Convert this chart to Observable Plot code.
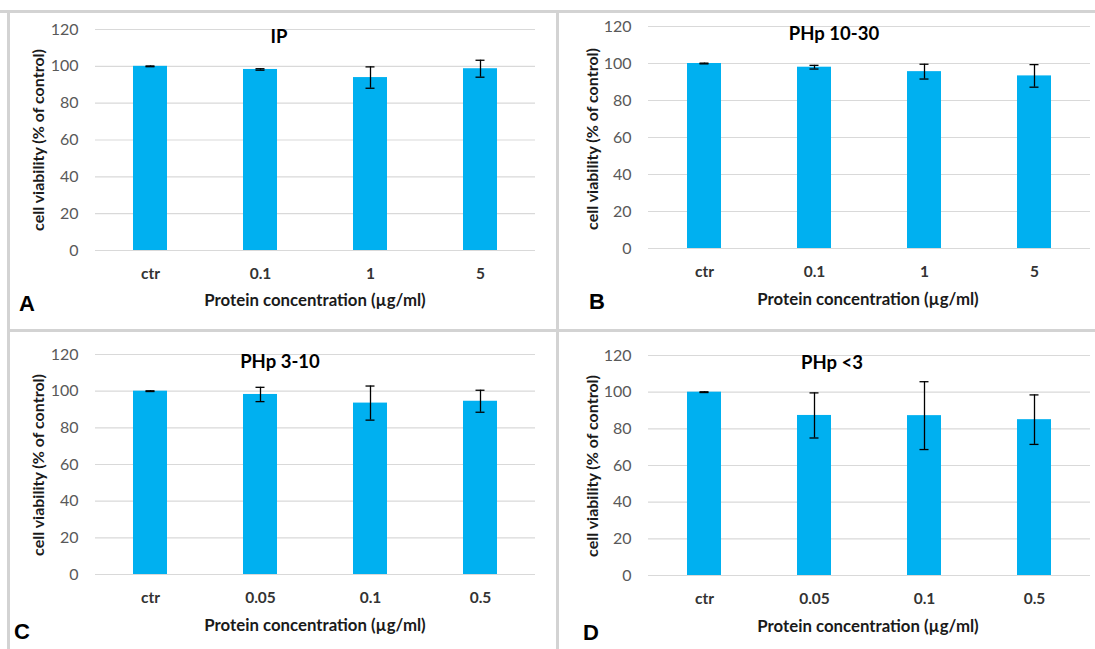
<!DOCTYPE html>
<html>
<head>
<meta charset="utf-8">
<script src="https://cdn.jsdelivr.net/npm/d3@7"></script>
<script src="https://cdn.jsdelivr.net/npm/@observablehq/plot@0.6"></script>
<style>
  body { margin: 0; background: #fff; }
  #fig { position: relative; width: 1095px; height: 649px; overflow: hidden; background: #fff; font-family: Lato, "Open Sans", sans-serif; }
  .rule { position: absolute; background: #d3d3d3; }
  .panel { position: absolute; }
  .panel svg { display: block; background: transparent; }
  #labels { position: absolute; left: 0; top: 0; pointer-events: none; }
</style>
</head>
<body>
<div id="fig"></div>
<script>
// Concentrations tested in each panel
const categoriesAB = ["ctr", "0.1", "1", "5"];
const categoriesCD = ["ctr", "0.05", "0.1", "0.5"];

// Cell viability (% of control), mean and error
const viabilityIP = [100, 98.3, 93.9, 98.7];
const errorIP = [0.2, 0.4, 5.8, 4.6];
const viabilityPHp1030 = [100, 98.0, 95.6, 93.3];
const errorPHp1030 = [0.2, 1.0, 4.0, 6.1];
const viabilityPHp310 = [100, 98.2, 93.5, 94.5];
const errorPHp310 = [0.2, 3.9, 9.3, 6.0];
const viabilityPHp3 = [100, 87.3, 87.2, 85.0];
const errorPHp3 = [0.2, 12.3, 18.5, 13.5];

const yTicks = [0, 20, 40, 60, 80, 100, 120];
const panelTitles = ["IP", "PHp 10-30", "PHp 3-10", "PHp <3"];
const panelLetters = ["A", "B", "C", "D"];
const xTitle = "Protein concentration (\u00b5g/ml)";
const yTitle = "cell viability (% of control)";

const series = [
  {cats: categoriesAB, vals: viabilityIP, errs: errorIP},
  {cats: categoriesAB, vals: viabilityPHp1030, errs: errorPHp1030},
  {cats: categoriesCD, vals: viabilityPHp310, errs: errorPHp310},
  {cats: categoriesCD, vals: viabilityPHp3, errs: errorPHp3}
];

// Page layout: svg box [left, top, width, height], plot frame [x0, x1, yTop, yBottom],
// and text anchors in page pixels
const layout = [
  {box: [10, 13, 546, 316], frame: [95, 535, 29, 250], title: [279, 36], xt: [315, 299], yt: [37, 140], letter: [19, 311]},
  {box: [559, 13, 536, 316], frame: [648, 1090, 26, 248], title: [834, 33], xt: [868, 298], yt: [591, 139], letter: [589, 309]},
  {box: [10, 332, 546, 317], frame: [95, 535, 354, 574], title: [280, 361], xt: [315, 624], yt: [37, 465], letter: [14, 639]},
  {box: [559, 332, 536, 317], frame: [648, 1090, 355, 575], title: [832, 362], xt: [868, 625], yt: [591, 466], letter: [583, 640]}
];

const fig = document.getElementById("fig");

// light grey panel dividers
[[0, 10, 1095, 3], [7, 10, 3, 639], [556, 10, 3, 639], [7, 329, 1088, 3]].forEach(([l, t, w, h]) => {
  const d = document.createElement("div");
  d.className = "rule";
  Object.assign(d.style, {left: l + "px", top: t + "px", width: w + "px", height: h + "px"});
  fig.appendChild(d);
});

series.forEach((s, i) => {
  const L = layout[i];
  const [left, top, W, H] = L.box;
  const [fx0, fx1, fy0, fy1] = L.frame;
  const data = s.cats.map((c, k) => ({c, v: s.vals[k], e: s.errs[k]}));
  const chart = Plot.plot({
    width: W,
    height: H,
    marginLeft: fx0 - left,
    marginRight: left + W - fx1,
    marginTop: fy0 - top,
    marginBottom: top + H - fy1,
    style: {fontFamily: "Lato, 'Open Sans', sans-serif", background: "transparent", overflow: "visible"},
    x: {domain: s.cats, paddingInner: 0.69, paddingOuter: 0.345, axis: null},
    y: {domain: [0, 120], axis: null},
    marks: [
      Plot.gridY(yTicks, {stroke: "#d9d9d9", strokeOpacity: 1, strokeWidth: 1.2}),
      Plot.axisY(yTicks, {tickSize: 0, tickPadding: 17, fontSize: 16, fill: "#595959", label: null}),
      Plot.axisX({tickSize: 0, tickPadding: 17, fontSize: 15.5, fontWeight: "bold", fill: "#333", label: null}),
      Plot.barY(data, {x: "c", y: "v", fill: "#00b0f0"}),
      Plot.ruleX(data, {x: "c", y1: d => d.v - d.e, y2: d => d.v + d.e, stroke: "#000", strokeWidth: 1.3}),
      Plot.tickY(data, {x: "c", y: d => d.v + d.e, insetLeft: 12.5, insetRight: 12.5, stroke: "#000", strokeWidth: 1.3}),
      Plot.tickY(data, {x: "c", y: d => d.v - d.e, insetLeft: 12.5, insetRight: 12.5, stroke: "#000", strokeWidth: 1.3})
    ]
  });
  const holder = document.createElement("div");
  holder.className = "panel";
  Object.assign(holder.style, {left: left + "px", top: top + "px"});
  holder.appendChild(chart);
  fig.appendChild(holder);
});

// titles, axis titles and panel letters
const svg = d3.select(fig).append("svg")
  .attr("id", "labels")
  .attr("width", 1095)
  .attr("height", 649);

layout.forEach((L, i) => {
  svg.append("text")
    .attr("x", L.title[0]).attr("y", L.title[1])
    .attr("text-anchor", "middle").attr("dominant-baseline", "central")
    .attr("font-family", "Lato, 'Open Sans', sans-serif")
    .attr("font-weight", 700).attr("font-size", 18.5).attr("fill", "#000")
    .text(panelTitles[i]);
  svg.append("text")
    .attr("x", L.xt[0]).attr("y", L.xt[1])
    .attr("text-anchor", "middle").attr("dominant-baseline", "central")
    .attr("font-family", "Lato, 'Open Sans', sans-serif")
    .attr("font-weight", 700).attr("font-size", 16.8).attr("fill", "#1a1a1a")
    .text(xTitle);
  svg.append("text")
    .attr("transform", `translate(${L.yt[0]},${L.yt[1]}) rotate(-90)`)
    .attr("text-anchor", "middle").attr("dominant-baseline", "central")
    .attr("font-family", "Lato, 'Open Sans', sans-serif")
    .attr("font-weight", 700).attr("font-size", 16).attr("fill", "#1a1a1a")
    .text(yTitle);
  svg.append("text")
    .attr("x", L.letter[0]).attr("y", L.letter[1])
    .attr("font-family", "'Liberation Sans', Arial, sans-serif")
    .attr("font-weight", 700).attr("font-size", 22).attr("fill", "#000")
    .text(panelLetters[i]);
});
</script>
</body>
</html>
